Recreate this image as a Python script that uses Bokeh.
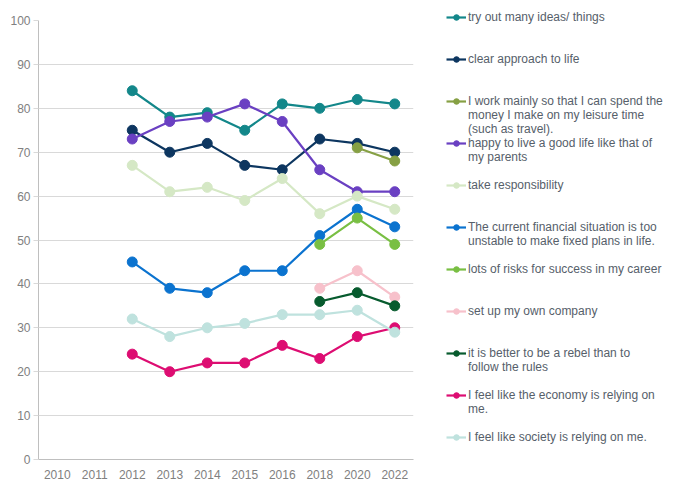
from bokeh.plotting import figure
from bokeh.models import Range1d, FactorRange, Legend, LegendItem, SingleIntervalTicker
from bokeh.embed import file_html
from bokeh.resources import INLINE

years = ["2010", "2011", "2012", "2013", "2014", "2015", "2016", "2018", "2020", "2022"]
years_full = ["2012", "2013", "2014", "2015", "2016", "2018", "2020", "2022"]
years_late3 = ["2018", "2020", "2022"]
years_late2 = ["2020", "2022"]

try_out = [84, 78, 79, 75, 81, 80, 82, 81]
clear_approach = [75, 70, 72, 67, 66, 73, 72, 70]
work_mainly = [71, 68]
happy_parents = [73, 77, 78, 81, 77, 66, 61, 61]
take_resp = [67, 61, 62, 59, 64, 56, 60, 57]
financial = [45, 39, 38, 43, 43, 51, 57, 53]
risks_career = [49, 55, 49]
own_company = [39, 43, 37]
rebel = [36, 38, 35]
economy = [24, 20, 22, 22, 26, 23, 28, 30]
society = [32, 28, 30, 31, 33, 33, 34, 29]

labels = [
    "try out many ideas/ things",
    "clear approach to life",
    "I work mainly so that I can spend the\nmoney I make on my leisure time\n(such as travel).",
    "happy to live a good life like that of\nmy parents",
    "take responsibility",
    "The current financial situation is too\nunstable to make fixed plans in life.",
    "lots of risks for success in my career",
    "set up my own company",
    "it is better to be a rebel than to\nfollow the rules",
    "I feel like the economy is relying on\nme.",
    "I feel like society is relying on me.",
]
xs_list = [years_full, years_full, years_late2, years_full, years_full, years_full,
           years_late3, years_late3, years_late3, years_full, years_full]
ys_list = [try_out, clear_approach, work_mainly, happy_parents, take_resp, financial,
           risks_career, own_company, rebel, economy, society]
colors = ["#13878a", "#0d3660", "#86a044", "#6a40c2", "#d5e8c5", "#0b73cf",
          "#79bf43", "#f7c1cb", "#075b2e", "#dd0d72", "#bfe2de"]

FONT = "Liberation Sans"
ROWS_PER_ENTRY = 3
ROW_H = 14

p = figure(x_range=FactorRange(*years), y_range=Range1d(0, 100),
           output_backend="svg", toolbar_location=None,
           frame_width=375, frame_height=439,
           min_border_left=38, min_border_top=20, min_border_right=264, min_border_bottom=23)
p.outline_line_color = None
p.background_fill_color = "white"

p.xgrid.grid_line_color = None
p.ygrid.grid_line_color = "#d9d9d9"
p.ygrid.grid_line_width = 1

p.yaxis.ticker = SingleIntervalTicker(interval=10)
p.yaxis.axis_line_color = "#bfbfbf"
p.yaxis.major_tick_line_color = "#d9d9d9"
p.yaxis.major_tick_out = 5
p.yaxis.major_tick_in = 0
p.yaxis.minor_tick_line_color = None
p.yaxis.major_label_standoff = 3
p.xaxis.axis_line_color = "#bfbfbf"
p.xaxis.major_tick_line_color = None
p.xaxis.major_tick_out = 0
p.xaxis.major_label_standoff = 10
for ax in (p.xaxis, p.yaxis):
    ax.major_label_text_font = FONT
    ax.major_label_text_font_size = "12px"
    ax.major_label_text_color = "#808080"

items = []
for label, xs, ys, color in zip(labels, xs_list, ys_list, colors):
    r_line = p.line(xs, ys, line_color=color, line_width=2.2)
    r_dot = p.scatter(xs, ys, size=10, fill_color=color, line_color=color)
    lines = label.split("\n")
    items.append(LegendItem(label=lines[0], renderers=[r_line, r_dot]))
    for extra in lines[1:]:
        items.append(LegendItem(label=extra, renderers=[]))
    for _ in range(ROWS_PER_ENTRY - len(lines)):
        items.append(LegendItem(label=" ", renderers=[]))
# drop trailing spacer rows after the last entry
while items and items[-1].label.value == " ":
    items.pop()

legend_h = len(items) * ROW_H
lg = Legend(items=items, location=(33, 459 - 20 - 10 - legend_h + 20), padding=0, margin=0, spacing=0,
            border_line_color=None, background_fill_alpha=0,
            glyph_width=20, glyph_height=ROW_H, label_height=ROW_H, label_standoff=2,
            label_text_font=FONT, label_text_font_size="12px",
            label_text_color="#56606a")
p.add_layout(lg, "right")

open("out.html", "w").write(file_html(p, INLINE))
